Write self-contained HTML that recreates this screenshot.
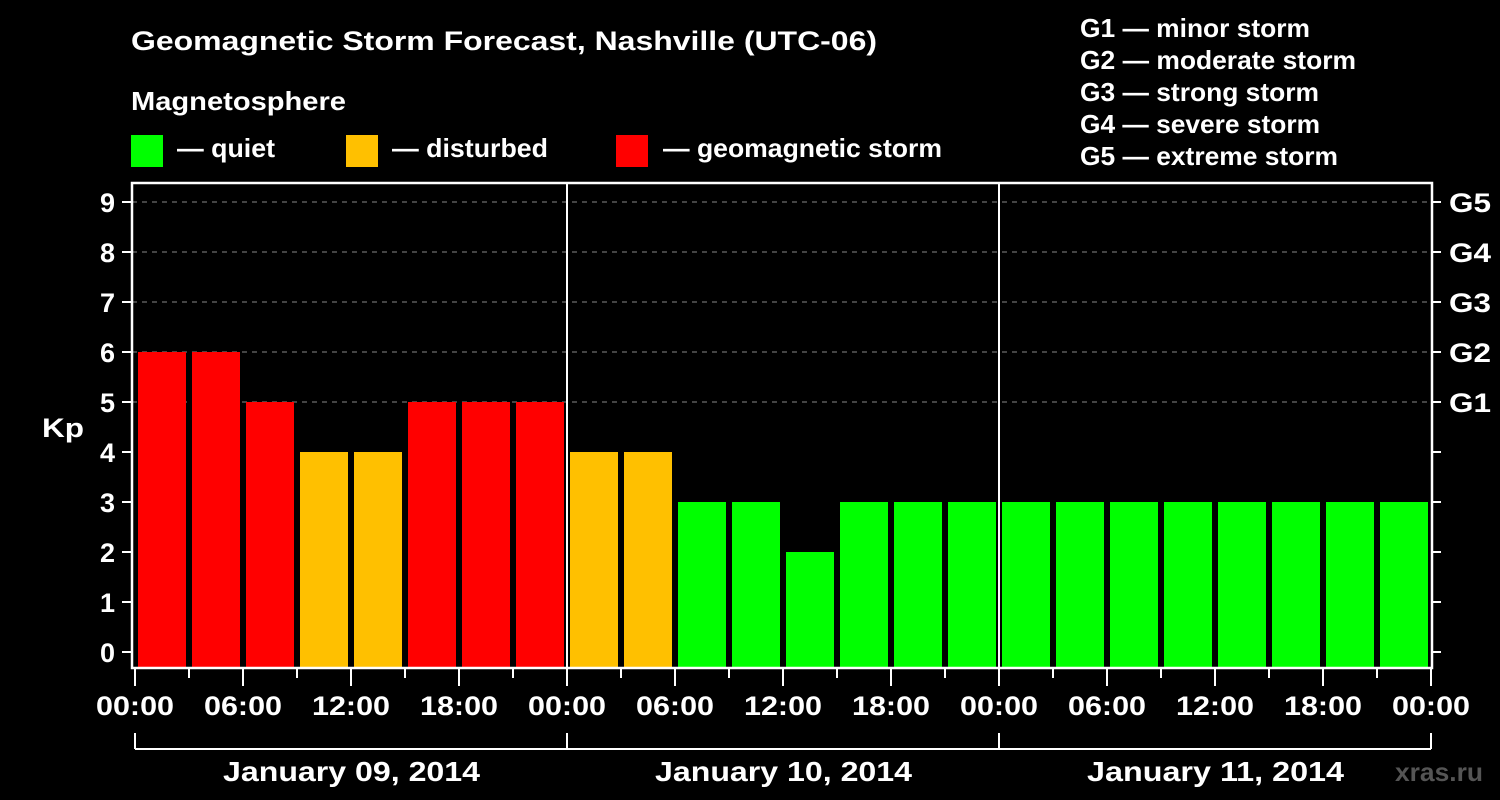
<!DOCTYPE html>
<html><head><meta charset="utf-8"><style>
html,body{margin:0;padding:0;background:#000;}
svg{display:block;font-family:"Liberation Sans",Arial,sans-serif;font-weight:bold;}
</style></head><body>
<svg id="c" width="1500" height="800" viewBox="0 0 1500 800">
<text x="131" y="50" fill="#fff" font-size="27" textLength="746" lengthAdjust="spacingAndGlyphs">Geomagnetic Storm Forecast, Nashville (UTC-06)</text>
<text x="131" y="110" fill="#fff" font-size="26" textLength="215" lengthAdjust="spacingAndGlyphs">Magnetosphere</text>
<g><rect x="131" y="135" width="32" height="32" fill="#00ff00"/><text x="177" y="157" fill="#fff" font-size="26" textLength="98" lengthAdjust="spacingAndGlyphs">— quiet</text></g>
<g><rect x="346" y="135" width="32" height="32" fill="#ffc000"/><text x="392" y="157" fill="#fff" font-size="26" textLength="156" lengthAdjust="spacingAndGlyphs">— disturbed</text></g>
<g><rect x="616" y="135" width="32" height="32" fill="#ff0000"/><text x="663" y="157" fill="#fff" font-size="26" textLength="279" lengthAdjust="spacingAndGlyphs">— geomagnetic storm</text></g>
<g fill="#fff" font-size="26">
<text x="1080" y="37" textLength="230" lengthAdjust="spacingAndGlyphs">G1 — minor storm</text>
<text x="1080" y="69" textLength="276" lengthAdjust="spacingAndGlyphs">G2 — moderate storm</text>
<text x="1080" y="101" textLength="239" lengthAdjust="spacingAndGlyphs">G3 — strong storm</text>
<text x="1080" y="133" textLength="240" lengthAdjust="spacingAndGlyphs">G4 — severe storm</text>
<text x="1080" y="165" textLength="258" lengthAdjust="spacingAndGlyphs">G5 — extreme storm</text>
</g>
<text x="42" y="437" fill="#fff" font-size="27" textLength="42" lengthAdjust="spacingAndGlyphs">Kp</text>
<text x="1395" y="781" fill="#555" font-size="26" textLength="88" lengthAdjust="spacingAndGlyphs">xras.ru</text>
<g id="grid"></g><g id="bars"></g><g id="axes"></g>
</svg>
<script>
const kpValues=[6,6,5,4,4,5,5,5,4,4,3,3,2,3,3,3,3,3,3,3,3,3,3,3];
const yTicks=[0,1,2,3,4,5,6,7,8,9];
const gLabels=["G1","G2","G3","G4","G5"];
const gLevels=[5,6,7,8,9];
const hourLabels=["00:00","06:00","12:00","18:00"];
const dayLabels=["January 09, 2014","January 10, 2014","January 11, 2014"];
const NS="http://www.w3.org/2000/svg";
const X0=132,X1=1432,Y0=668,Y1=183;
const xs=h=>135+h*18;
const ys=v=>652-v*50;
function mk(p,t,a){const e=document.createElementNS(NS,t);for(const k in a)e.setAttribute(k,a[k]);p.appendChild(e);return e;}
const grid=document.getElementById('grid'),bars=document.getElementById('bars'),axes=document.getElementById('axes');
gLevels.forEach(v=>{const l=mk(grid,'line',{x1:X0,x2:X1,y1:ys(v),y2:ys(v),stroke:'#888','stroke-dasharray':'5,5','stroke-width':1});

});
kpValues.forEach((v,i)=>{const c=v>=5?'#ff0000':v>=4?'#ffc000':'#00ff00';
const r=mk(bars,'rect',{x:xs(i*3)+3,y:ys(v),width:48,height:Y0-ys(v),fill:c});

});
[1,2].forEach(d=>{const l=mk(axes,'line',{x1:xs(d*24),x2:xs(d*24),y1:Y1,y2:Y0,stroke:'#fff','stroke-width':2});

});
const f=mk(axes,'rect',{x:X0,y:Y1,width:X1-X0,height:Y0-Y1,fill:'none',stroke:'#fff','stroke-width':2.5});


yTicks.forEach(v=>{mk(axes,'line',{x1:122,x2:X0,y1:ys(v),y2:ys(v),stroke:'#fff','stroke-width':2});
mk(axes,'line',{x1:X1,x2:1441,y1:ys(v),y2:ys(v),stroke:'#fff','stroke-width':2});
const t=mk(axes,'text',{x:115,y:ys(v)+10,fill:'#fff','font-size':27,'text-anchor':'end'});t.textContent=v;

});
gLabels.forEach((g,i)=>{const t=mk(axes,'text',{x:1449,y:ys(gLevels[i])+10,fill:'#fff','font-size':27,textLength:42,lengthAdjust:'spacingAndGlyphs'});t.textContent=g;

});
for(let h=0;h<=72;h+=3){const maj=h%6===0;
mk(axes,'line',{x1:xs(h),x2:xs(h),y1:Y0,y2:maj?686:678,stroke:'#fff','stroke-width':2});
if(maj){const t=mk(axes,'text',{x:xs(h)-39,y:715,fill:'#fff','font-size':27,textLength:78,lengthAdjust:'spacingAndGlyphs'});t.textContent=hourLabels[(h/6)%4];

}}
mk(axes,'line',{x1:xs(0),x2:xs(72),y1:749,y2:749,stroke:'#fff','stroke-width':2});
for(let d=0;d<=3;d++)mk(axes,'line',{x1:xs(d*24),x2:xs(d*24),y1:733,y2:749,stroke:'#fff','stroke-width':2});
dayLabels.forEach((s,d)=>{const t=mk(axes,'text',{x:xs(d*24+12)-128,y:781,fill:'#fff','font-size':28,textLength:257,lengthAdjust:'spacingAndGlyphs'});t.textContent=s;

});
</script>
</body></html>
